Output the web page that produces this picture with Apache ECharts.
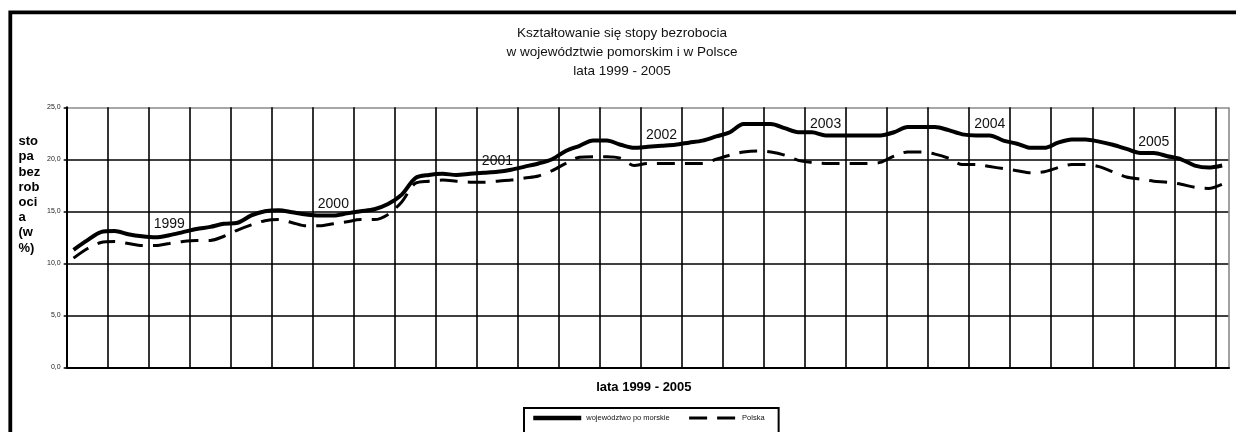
<!DOCTYPE html>
<html>
<head>
<meta charset="utf-8">
<script src="https://cdn.jsdelivr.net/npm/echarts@6/dist/echarts.min.js"></script>
<style>
html,body{margin:0;padding:0;background:#fff;}
#chart{width:1236px;height:432px;}
</style>
</head>
<body>
<div id="chart"></div>
<script>
// Months: XII 1998 .. XII 2005
const categories = [
 '12.1998',
 '01.1999','02.1999','03.1999','04.1999','05.1999','06.1999','07.1999','08.1999','09.1999','10.1999','11.1999','12.1999',
 '01.2000','02.2000','03.2000','04.2000','05.2000','06.2000','07.2000','08.2000','09.2000','10.2000','11.2000','12.2000',
 '01.2001','02.2001','03.2001','04.2001','05.2001','06.2001','07.2001','08.2001','09.2001','10.2001','11.2001','12.2001',
 '01.2002','02.2002','03.2002','04.2002','05.2002','06.2002','07.2002','08.2002','09.2002','10.2002','11.2002','12.2002',
 '01.2003','02.2003','03.2003','04.2003','05.2003','06.2003','07.2003','08.2003','09.2003','10.2003','11.2003','12.2003',
 '01.2004','02.2004','03.2004','04.2004','05.2004','06.2004','07.2004','08.2004','09.2004','10.2004','11.2004','12.2004',
 '01.2005','02.2005','03.2005','04.2005','05.2005','06.2005','07.2005','08.2005','09.2005','10.2005','11.2005','12.2005'
];
const pomorskie = [
 11.3,12.2,13.0,13.1,12.8,12.6,12.5,12.7,13.0,13.3,
 13.5,13.8,13.9,14.6,15.0,15.1,14.9,14.7,14.6,14.6,
 14.8,15.0,15.2,15.7,16.6,18.2,18.5,18.6,18.5,18.6,
 18.7,18.8,19.0,19.3,19.6,20.0,20.8,21.3,21.8,21.8,
 21.4,21.1,21.2,21.3,21.4,21.6,21.8,22.2,22.6,23.4,
 23.4,23.4,23.0,22.6,22.6,22.3,22.3,22.3,22.3,22.3,
 22.6,23.1,23.1,23.1,22.8,22.4,22.3,22.3,21.8,21.5,
 21.1,21.1,21.6,21.9,21.9,21.7,21.4,21.0,20.6,20.6,
 20.3,20.0,19.4,19.2,19.4
];
const polska = [
 10.5,11.4,12.0,12.1,11.9,11.7,11.7,11.9,12.1,12.2,
 12.2,12.6,13.2,13.7,14.1,14.2,13.9,13.6,13.6,13.8,
 14.0,14.2,14.2,14.7,15.9,17.7,17.9,18.0,17.9,17.8,
 17.8,17.9,18.0,18.2,18.4,18.9,19.6,20.2,20.25,20.25,
 20.1,19.4,19.6,19.6,19.6,19.6,19.6,20.0,20.4,20.7,
 20.8,20.7,20.4,19.9,19.7,19.6,19.6,19.6,19.6,19.7,
 20.3,20.7,20.7,20.5,20.1,19.5,19.5,19.3,19.1,18.9,
 18.7,18.8,19.2,19.5,19.5,19.3,18.8,18.3,18.1,17.9,
 17.8,17.6,17.3,17.2,17.6
];
const yearLabelIndex = [7,19,31,43,55,67,79];
const yearLabelText = ['1999','2000','2001','2002','2003','2004','2005'];
const seriesNames = ['województwo po morskie','Polska'];
const titleText = 'Kształtowanie się stopy bezrobocia\nw województwie pomorskim i w Polsce\nlata 1999 - 2005';
const xAxisName = 'lata 1999 - 2005';
const yAxisName = 'sto\npa\nbez\nrob\noci\na\n(w\n%)';

const FONT = '"Liberation Sans", Arial, sans-serif';

const pomorskieData = pomorskie.map(function (v, i) {
  const k = yearLabelIndex.indexOf(i);
  if (k < 0) return v;
  return {
    value: v,
    symbol: 'circle',
    symbolSize: 0,
    label: {show: true, formatter: yearLabelText[k]}
  };
});

const xSplitColors = [];
for (let i = 0; i < 30; i++) xSplitColors.push(i === 29 ? '#8a8a8a' : '#000');
const ySplitColors = ['#000','#000','#000','#000','#000','#8a8a8a'];

const chart = echarts.init(document.getElementById('chart'), null, {renderer: 'canvas'});
chart.setOption({
  animation: false,
  backgroundColor: '#fff',
  textStyle: {fontFamily: FONT},
  title: {
    text: titleText,
    left: 622,
    top: 23.5,
    padding: 0,
    textAlign: 'center',
    textStyle: {fontSize: 13.5, fontWeight: 'normal', color: '#111', lineHeight: 19, fontFamily: FONT}
  },
  grid: {left: 66.7, right: 7, top: 107.3, bottom: 64.7, containLabel: false},
  xAxis: {
    type: 'category',
    data: categories,
    boundaryGap: true,
    axisTick: {show: false},
    axisLabel: {show: false},
    axisLine: {lineStyle: {color: '#000', width: 2.2}},
    splitLine: {show: true, interval: 2, lineStyle: {color: xSplitColors, width: 1.6}},
    name: xAxisName,
    nameLocation: 'middle',
    nameGap: 14,
    nameTextStyle: {fontWeight: 'bold', fontSize: 13, color: '#000', padding: [0, 8, 0, 0], fontFamily: FONT}
  },
  yAxis: {
    type: 'value',
    min: 0, max: 25, interval: 5,
    axisLine: {show: true, lineStyle: {color: '#000', width: 2}},
    axisTick: {show: true, length: 3, lineStyle: {color: '#000', width: 1.5}},
    axisLabel: {fontSize: 7, color: '#222', margin: 6, fontFamily: FONT,
      formatter: function (v) { return v.toFixed(1).replace('.', ','); }},
    splitLine: {show: true, lineStyle: {color: ySplitColors, width: 1.6}}
  },
  legend: {
    left: 524, top: 408,
    orient: 'horizontal',
    itemWidth: 48, itemHeight: 8, itemGap: 18,
    padding: [6, 14, 24, 7],
    borderColor: '#000', borderWidth: 2,
    backgroundColor: '#fff',
    itemStyle: {opacity: 0},
    textStyle: {fontSize: 7.5, color: '#111', fontFamily: FONT},
    data: [
      {name: seriesNames[0], lineStyle: {width: 4.5, color: '#000'}},
      {name: seriesNames[1], lineStyle: {width: 3, color: '#000', type: [18, 10]}}
    ]
  },
  graphic: [
    {type: 'rect', silent: true, z: 100,
     shape: {x: 10.3, y: 12.3, width: 1400, height: 700},
     style: {fill: null, stroke: '#000', lineWidth: 3.8}},
    {type: 'text', silent: true, left: 18.5, top: 134,
     style: {text: yAxisName, fontSize: 13, fontWeight: 'bold', fontFamily: FONT, lineHeight: 15.2, fill: '#000'}}
  ],
  series: [
    {
      name: seriesNames[0],
      type: 'line',
      data: pomorskieData,
      symbol: 'none',
      smooth: 0.3,
      lineStyle: {color: '#000', width: 4},
      itemStyle: {color: '#000'},
      label: {position: 'top', distance: 4, fontSize: 14, color: '#111', fontFamily: FONT},
      z: 5
    },
    {
      name: seriesNames[1],
      type: 'line',
      data: polska,
      symbol: 'none',
      smooth: 0.3,
      lineStyle: {color: '#000', width: 3, type: [18, 10]},
      itemStyle: {color: '#000'},
      z: 4
    }
  ]
});
</script>
</body>
</html>
